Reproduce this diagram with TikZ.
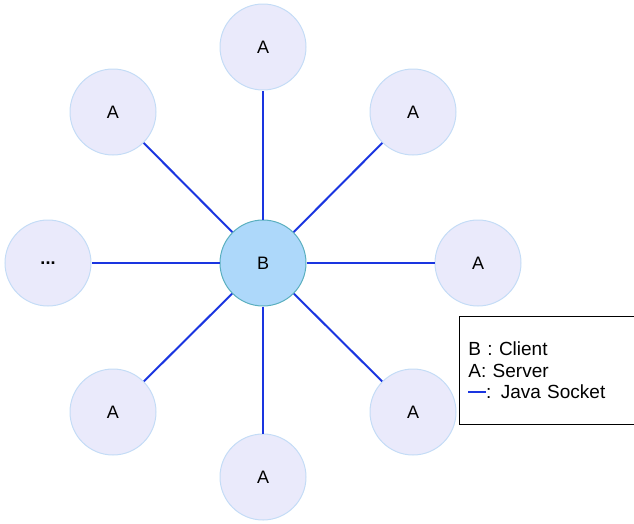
\documentclass[tikz,border=0pt]{standalone}
\usepackage{fontspec}
\setmainfont{Liberation Sans}
\definecolor{srvfill}{HTML}{EAEAFB}
\definecolor{srvedge}{HTML}{C4DCF6}
\definecolor{clifill}{HTML}{ADD8FA}
\definecolor{cliedge}{HTML}{5AAFBF}
\definecolor{linkblue}{HTML}{1A35E0}
\begin{document}
\begin{tikzpicture}[x=1pt,y=-1pt,
  server/.style={circle,draw=srvedge,fill=srvfill,line width=1pt,minimum size=86pt,inner sep=0pt,font=\fontsize{18}{21}\selectfont},
  client/.style={circle,draw=cliedge,fill=clifill,line width=1pt,minimum size=86pt,inner sep=0pt,font=\fontsize{18}{21}\selectfont},
  link/.style={draw=linkblue,line width=2pt},
  legend/.style={draw=black,line width=0.8pt,align=left,anchor=north west,minimum width=176pt,minimum height=108pt,inner xsep=9pt,text width=158pt,font=\fontsize{19}{21.5}\selectfont}]
\useasboundingbox (0,0) rectangle (634,523);
\node[client] (b) at (263,263) {B};
\node[server] (n) at (263,47) {A};
\node[server] (ne) at (413,112) {A};
\node[server] (e) at (478,263) {A};
\node[server] (se) at (413,412) {A};
\node[server] (s) at (263,477) {A};
\node[server] (sw) at (113,412) {A};
\node[server] (w) at (48,263) {\textbf{...}};
\node[server] (nw) at (113,112) {A};
\foreach \t in {n,ne,e,se,s,sw,w,nw}{\draw[link] (b) -- (\t);}
\node[legend] (leg) at (459,316) {B : Client\\A: Server\\{\color{linkblue}\rule[0.3em]{0.9em}{2pt}}\kern0.5pt: Java Socket};
\end{tikzpicture}
\end{document}
